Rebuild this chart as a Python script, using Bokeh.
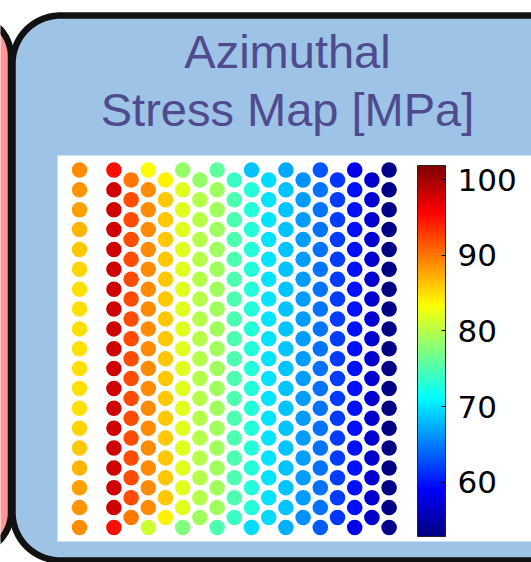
import numpy as np
from bokeh.plotting import figure
from bokeh.models import Range1d, LinearColorMapper, ColorBar, FixedTicker, ColumnDataSource
from bokeh.core.properties import value
from bokeh.embed import file_html
from bokeh.resources import INLINE

# ---------------- data ----------------
title_lines = ["Azimuthal", "Stress Map [MPa]"]
cbar_ticks = [60, 70, 80, 90, 100]
value_low, value_high = 52.8, 101.9

# column index in the hexagonal grid (column 1 is empty)
col_index = [0, 2, 3, 4, 5, 6, 7, 8, 9, 10, 11, 12, 13, 14, 15, 16, 17, 18]
col_rows = [19, 19, 18, 19, 18, 19, 18, 19, 18, 19, 18, 19, 18, 19, 18, 19, 18, 19]
col_top = [89, 95, 90, 83.5, 84, 78.5, 78.5, 76, 74, 68.5, 69.5, 67, 66, 63, 61.5, 58, 56.5, 53.5]
col_mid = [85, 98, 92, 89, 86, 82, 80, 79, 75, 73, 70, 68.5, 66.5, 64.5, 62, 59.8, 56.7, 53.3]
col_bot = [89, 95, 90, 81, 84, 77.5, 79, 75, 74, 69.5, 69.5, 67.5, 66, 63.5, 61.5, 58, 56.5, 53.5]
first_column_values = [89, 88.5, 88, 87, 86, 85.5, 85, 85, 85, 85, 85, 85, 85, 85.5, 86, 87, 88, 88.5, 89]

# ---------------- layout constants (pixels, top-down) ----------------
W, H = 531, 562
grid_x0, grid_dx = 79.0, 17.2
grid_y0, grid_dy = 169.5, 19.86


def jet(n=256):
    out = []
    for f in np.linspace(0, 1, n):
        r = np.clip(1.5 - abs(4 * f - 3), 0, 1)
        g = np.clip(1.5 - abs(4 * f - 2), 0, 1)
        b = np.clip(1.5 - abs(4 * f - 1), 0, 1)
        out.append("#%02x%02x%02x" % (int(r * 255), int(g * 255), int(b * 255)))
    return out


def rounded_rect(x0, y0, x1, y1, r, n=24):
    xs, ys = [], []
    corners = [(x1 - r, y0 + r, -90, 0), (x1 - r, y1 - r, 0, 90),
               (x0 + r, y1 - r, 90, 180), (x0 + r, y0 + r, 180, 270)]
    for cx, cy, a0, a1 in corners:
        for a in np.linspace(np.radians(a0), np.radians(a1), n):
            xs.append(cx + r * np.cos(a))
            ys.append(cy + r * np.sin(a))
    return xs, ys


p = figure(width=W, height=H, output_backend="svg", toolbar_location=None,
           x_range=Range1d(0, W), y_range=Range1d(H, 0),
           x_axis_location=None, y_axis_location=None, min_border=0)
p.outline_line_color = None
p.grid.visible = False
p.background_fill_color = "white"
p.border_fill_color = "white"

# grid coordinate ranges (column index / row index)
p.extra_x_ranges = {"gx": Range1d(-grid_x0 / grid_dx, (W - grid_x0) / grid_dx)}
p.extra_y_ranges = {"gy": Range1d((H - grid_y0) / grid_dy, -grid_y0 / grid_dy),
                    "cb": Range1d(value_low - (H - 536) * (value_high - value_low) / 371,
                                  value_high + 165 * (value_high - value_low) / 371)}

# boxes
xs, ys = rounded_rect(-90, 16, 10.5, 552, 40)
p.patch(xs, ys, fill_color="#ff9999", line_color="#111111", line_width=6.5)
xs, ys = rounded_rect(12, 15, 640, 560, 48)
p.patch(xs, ys, fill_color="#9dc3e6", line_color="#111111", line_width=6.5)
p.quad(left=57, right=560, top=155, bottom=541, fill_color="white", line_color=None)

# title
p.text(x=[287, 287], y=[51, 109], text=title_lines,
       text_font=value("Liberation Sans"), text_font_size="47px",
       text_color="#504a8e", text_align="center", text_baseline="alphabetic")

# dots
gx, gy, vals = [], [], []
for k, (ci, nr) in enumerate(zip(col_index, col_rows)):
    off = 0.0 if nr == 19 else 0.5
    for r in range(nr):
        if ci == 0:
            v = first_column_values[r]
        elif r == 0:
            v = col_top[k]
        elif r == nr - 1:
            v = col_bot[k]
        else:
            v = col_mid[k]
        gx.append(ci)
        gy.append(r + off)
        vals.append(v)
src = ColumnDataSource(dict(x=gx, y=gy, v=vals))
mapper = LinearColorMapper(palette=jet(), low=value_low, high=value_high)
p.scatter("x", "y", source=src, size=15.5, marker="circle",
          fill_color={"field": "v", "transform": mapper}, line_color=None,
          x_range_name="gx", y_range_name="gy")

cb = ColorBar(color_mapper=mapper, location=(417, 26), width=28, height=371,
              padding=0, ticker=FixedTicker(ticks=cbar_ticks),
              major_label_text_font="DejaVu Sans", major_label_text_font_size="31px",
              major_label_text_color="black", label_standoff=12,
              major_tick_in=4, major_tick_out=0, major_tick_line_color="black",
              minor_tick_line_color=None, bar_line_color="#222222",
              background_fill_alpha=0, border_line_color=None)
p.add_layout(cb, "center")

# left-side ticks on the colour bar
p.segment(x0=[417] * 5, x1=[421] * 5, y0=cbar_ticks, y1=cbar_ticks,
          line_color="black", line_width=1, y_range_name="cb")

open("out.html", "w").write(file_html(p, INLINE))
